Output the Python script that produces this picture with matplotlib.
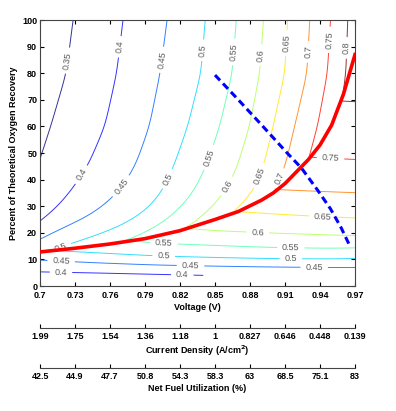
import numpy as np
import matplotlib
matplotlib.use("Agg")
import matplotlib.pyplot as plt

plt.rcParams['font.family'] = ['Liberation Sans Narrow', 'Liberation Sans', 'DejaVu Sans']

# contour levels shown
levels = [0.35, 0.40, 0.45, 0.50, 0.55, 0.60, 0.65, 0.70, 0.75, 0.80]

# upper family (above the ridge): voltage where each level crosses a given recovery row
upper_levels = [0.30, 0.35, 0.40, 0.45, 0.50, 0.55, 0.60, 0.65, 0.70, 0.75, 0.80, 0.85, 0.90]
upper_rows = [4, 12, 16, 21, 27, 35, 45, 60, 80, 100]
upper_v_row4 = [0.560, 0.600, 0.620, 0.640, 0.660, 0.680, 0.700, 0.730, 0.760, 0.790, 0.820, 0.850, 0.880]
upper_v_row12 = [0.600, 0.640, 0.660, 0.675, 0.700, 0.740, 0.770, 0.800, 0.830, 0.855, 0.875, 0.895, 0.910]
upper_v_row16 = [0.615, 0.660, 0.680, 0.690, 0.730, 0.772, 0.800, 0.830, 0.855, 0.875, 0.895, 0.915, 0.930]
upper_v_row21 = [0.625, 0.670, 0.693, 0.712, 0.765, 0.795, 0.824, 0.850, 0.870, 0.890, 0.910, 0.930, 0.945]
upper_v_row27 = [0.635, 0.680, 0.709, 0.745, 0.790, 0.815, 0.842, 0.865, 0.885, 0.905, 0.925, 0.940, 0.955]
upper_v_row35 = [0.645, 0.690, 0.725, 0.767, 0.805, 0.831, 0.859, 0.883, 0.9005, 0.918, 0.935, 0.950, 0.965]
upper_v_row45 = [0.655, 0.698, 0.741, 0.782, 0.815, 0.8425, 0.8695, 0.892, 0.910, 0.929, 0.945, 0.960, 0.975]
upper_v_row60 = [0.665, 0.709, 0.756, 0.794, 0.827, 0.854, 0.880, 0.900, 0.918, 0.938, 0.956, 0.972, 0.986]
upper_v_row80 = [0.678, 0.7225, 0.766, 0.803, 0.8385, 0.865, 0.8885, 0.910, 0.929, 0.9465, 0.9625, 0.976, 0.990]
upper_v_row100 = [0.685, 0.7284, 0.7714, 0.8092, 0.842, 0.8685, 0.8918, 0.9124, 0.9313, 0.9494, 0.964, 0.977, 0.990]

# lower family (below the ridge): recovery where each level crosses a given voltage column
lower_levels = [0.35, 0.40, 0.45, 0.50, 0.55, 0.60, 0.65, 0.70, 0.75, 0.80, 0.85]
lower_cols = [0.70, 0.75, 0.80, 0.85, 0.90, 0.95, 0.97]
lower_y_070 = [1.0, 5.3, 9.8, 13.5, 19.0, 26.0, 34.0, 45.0, 60.0, 85.0, 120.0]
lower_y_075 = [0.8, 4.9, 8.7, 12.3, 18.0, 24.5, 32.0, 42.0, 56.0, 80.0, 115.0]
lower_y_080 = [0.5, 4.4, 7.9, 11.2, 16.0, 22.5, 30.0, 40.0, 53.0, 76.0, 110.0]
lower_y_085 = [0.2, 3.9, 7.5, 10.6, 15.2, 20.7, 28.5, 38.0, 51.0, 73.0, 105.0]
lower_y_090 = [-0.2, 3.5, 7.2, 10.2, 14.4, 19.8, 27.0, 36.2, 49.0, 71.0, 102.0]
lower_y_095 = [-0.5, 3.2, 7.0, 10.1, 14.1, 19.1, 25.8, 35.3, 47.8, 69.6, 100.0]
lower_y_097 = [-0.7, 3.0, 7.0, 10.3, 14.3, 18.8, 25.5, 35.0, 47.4, 69.2, 99.0]

# optimum curve (red) and constraint curve (blue dashed)
ridge_v = [0.70, 0.73, 0.76, 0.79, 0.82, 0.85, 0.87, 0.89, 0.90, 0.91, 0.92, 0.93, 0.94, 0.95, 0.96, 0.97]
ridge_y = [12.8, 14.2, 15.8, 17.8, 20.8, 25.0, 28.0, 32.3, 35.0, 38.5, 43.0, 47.5, 53.0, 60.5, 72.0, 87.0]
limit_v = [0.850, 0.870, 0.889, 0.911, 0.924, 0.938, 0.949, 0.958, 0.966]
limit_y = [79.3, 70.0, 61.0, 50.4, 44.4, 36.0, 29.0, 22.0, 14.7]

volt_ticks = [0.70, 0.73, 0.76, 0.79, 0.82, 0.85, 0.88, 0.91, 0.94, 0.97]
volt_labels = ['0.7', '0.73', '0.76', '0.79', '0.82', '0.85', '0.88', '0.91', '0.94', '0.97']
cd_labels = ['1.99', '1.75', '1.54', '1.36', '1.18', '1', '0.827', '0.646', '0.448', '0.139']
fu_labels = ['42.5', '44.9', '47.7', '50.8', '54.3', '58.3', '63', '68.5', '75.1', '83']

# label spots (near the contour they belong to)
label_pos = [(0.719, 85), (0.7705, 89.8), (0.805, 85), (0.8376, 88.7), (0.866, 88),
             (0.889, 86.8), (0.9124, 91.4), (0.9305, 88), (0.949, 92.5), (0.963, 89.5),
             (0.7387, 41), (0.772, 36.8), (0.812, 39.8), (0.84, 49), (0.8625, 37),
             (0.891, 41), (0.908, 40),
             (0.718, 14.0), (0.718, 8.3), (0.718, 5.3), (0.806, 15.4), (0.806, 10.9),
             (0.829, 7.1), (0.822, 4.3), (0.8866, 19.9), (0.915, 13.9), (0.915, 10.1),
             (0.935, 6.8), (0.9425, 25.5), (0.949, 47.7)]


def smooth(Z, sy, sx):
    # separable gaussian blur, odd reflection at the borders
    for axis, s in ((0, sy), (1, sx)):
        r = int(3 * s)
        k = np.exp(-0.5 * (np.arange(-r, r + 1) / s) ** 2)
        k /= k.sum()
        pad = [(0, 0), (0, 0)]
        pad[axis] = (r, r)
        Zp = np.pad(Z, pad, mode='reflect', reflect_type='odd')
        Z = np.apply_along_axis(lambda m: np.convolve(m, k, mode='valid'), axis, Zp)
    return Z


# build field: min of the two families
V = np.linspace(0.70, 0.97, 271)
Y = np.linspace(4, 100, 385)

up_table = np.array([upper_v_row4, upper_v_row12, upper_v_row16, upper_v_row21, upper_v_row27,
                     upper_v_row35, upper_v_row45, upper_v_row60, upper_v_row80, upper_v_row100])
Zu = np.zeros((len(Y), len(V)))
for i, y in enumerate(Y):
    vs = [np.interp(y, upper_rows, up_table[:, k]) for k in range(len(upper_levels))]
    Zu[i, :] = np.interp(V, vs, upper_levels)
Zu = smooth(Zu, 14, 5)

lo_table = np.array([lower_y_070, lower_y_075, lower_y_080, lower_y_085, lower_y_090,
                     lower_y_095, lower_y_097])
Zl = np.zeros((len(Y), len(V)))
for j, v in enumerate(V):
    ys = [np.interp(v, lower_cols, lo_table[:, k]) for k in range(len(lower_levels))]
    Zl[:, j] = np.interp(Y, ys, lower_levels)
Zl = smooth(Zl, 3, 10)

Z = np.minimum(Zu, Zl)

fig = plt.figure(figsize=(3.96, 4.11), dpi=100)
ax = fig.add_axes([40/396, 125/411, 315/396, 266/411])

cs = ax.contour(V, Y, Z, levels=levels, cmap='jet', linewidths=0.7, alpha=0.8)
ax.clabel(cs, manual=label_pos, inline=True, fontsize=6.5, fmt='%g', colors='#333333')

ax.plot(ridge_v, ridge_y, color='red', lw=2.6, zorder=5)
ax.plot(limit_v, limit_y, color='blue', lw=2.2, ls=(0, (2.4, 1.4)), zorder=6)

ax.set_xlim(0.7, 0.97)
ax.set_ylim(0, 100)
ax.set_xticks(volt_ticks)
ax.set_xticklabels(volt_labels)
ax.set_yticks(range(0, 101, 10))
ax.tick_params(direction='in', top=True, right=True, labelsize=6.5, length=3, pad=2)
ax.tick_params(axis='x', pad=3.5)
for lab in ax.get_xticklabels() + ax.get_yticklabels():
    lab.set_fontweight('bold')
ax.set_xlabel('Voltage (V)', fontsize=6.5, fontweight='bold', labelpad=2)
ax.set_ylabel('Percent of Theoretical Oxygen Recovery', fontsize=6.5, fontweight='bold', labelpad=3)
for sp in ax.spines.values():
    sp.set_color('#444444')

# secondary scales drawn as bare axes
for ypix, labs, title in [(328, cd_labels, 'Current Density (A/cm$^\\mathbf{2}$)'),
                          (368, fu_labels, 'Net Fuel Utilization (%)')]:
    a2 = fig.add_axes([40/396, (411 - ypix)/411, 315/396, 0.0001])
    for s in ['top', 'left', 'right']:
        a2.spines[s].set_visible(False)
    a2.spines['bottom'].set_color('#444444')
    a2.set_yticks([])
    a2.set_xlim(0.7, 0.97)
    a2.set_xticks(volt_ticks)
    a2.set_xticklabels(labs)
    a2.tick_params(axis='x', direction='in', labelsize=6.5, length=3, pad=3)
    for lab in a2.get_xticklabels():
        lab.set_fontweight('bold')
    a2.set_xlabel(title, fontsize=6.5, fontweight='bold', labelpad=2)

fig.savefig('out.png', dpi=100)
